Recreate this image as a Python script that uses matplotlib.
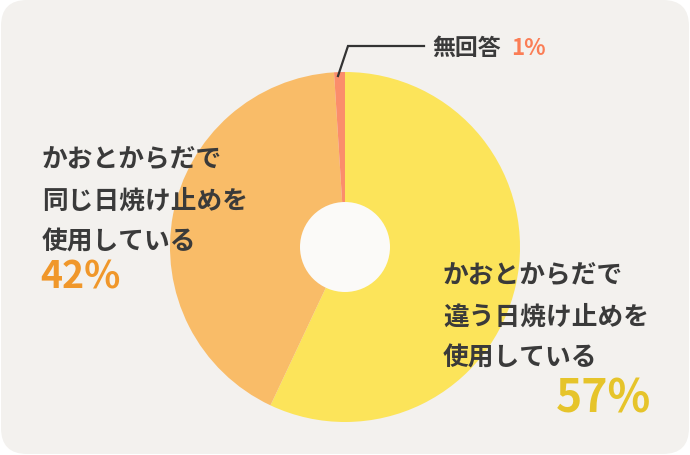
import matplotlib.pyplot as plt
from matplotlib.patches import FancyBboxPatch, Circle

plt.rcParams['font.family'] = ['Noto Sans CJK JP', 'DejaVu Sans']

# data
labels = ['かおとからだで\n違う日焼け止めを\n使用している', 'かおとからだで\n同じ日焼け止めを\n使用している', '無回答']
values = [57, 42, 1]
colors = ['#fce45a', '#f9bc68', '#fb8d6b']
pct_colors = ['#e6c42a', '#f0972a', '#fb7d55']

W, H = 690, 456
fig = plt.figure(figsize=(W / 100, H / 100), dpi=100)
fig.patch.set_facecolor('white')
ax = fig.add_axes([0, 0, 1, 1])
ax.set_xlim(0, W)
ax.set_ylim(0, H)
ax.set_aspect('equal')
ax.axis('off')

def py(y):
    # pixel y from top -> data y
    return H - y

bg = FancyBboxPatch((1, 1), W - 2, H - 2, boxstyle='round,pad=0,rounding_size=26',
                    fc='#f3f1ee', ec='none')
ax.add_patch(bg)

cx, cy, r = 345, py(248), 175
ax.pie(values, colors=colors, startangle=90, counterclock=False,
       center=(cx, cy), radius=r, frame=True,
       wedgeprops=dict(linewidth=0))
ax.set_xlim(0, W)
ax.set_ylim(0, H)
ax.axis('off')
ax.add_patch(Circle((cx, cy), 45, fc='#fbfaf8', ec='none', zorder=5))

# left label
txt = '#3a3a3a'
ax.text(42, py(201), labels[1], fontsize=18.5, fontweight='bold', color=txt,
        ha='left', va='center', linespacing=1.65)
ax.text(40, py(277), f'{values[1]}%', fontsize=27, fontweight='bold',
        color=pct_colors[1], ha='left', va='center')

# right label
ax.text(443, py(317), labels[0], fontsize=18.5, fontweight='bold', color=txt,
        ha='left', va='center', linespacing=1.65)
ax.text(651, py(400), f'{values[0]}%', fontsize=32, fontweight='bold',
        color=pct_colors[0], ha='right', va='center')

# small slice leader
ax.plot([338, 348, 424], [py(77), py(47), py(47)], color='#333333', lw=1.6,
        solid_joinstyle='miter', zorder=6)
ax.text(432, py(48), labels[2], fontsize=16.5, fontweight='bold', color=txt,
        ha='left', va='center')
ax.text(511, py(48), f'{values[2]}%', fontsize=16, fontweight='bold',
        color=pct_colors[2], ha='left', va='center')

fig.savefig('out.png', dpi=100, facecolor='white')
